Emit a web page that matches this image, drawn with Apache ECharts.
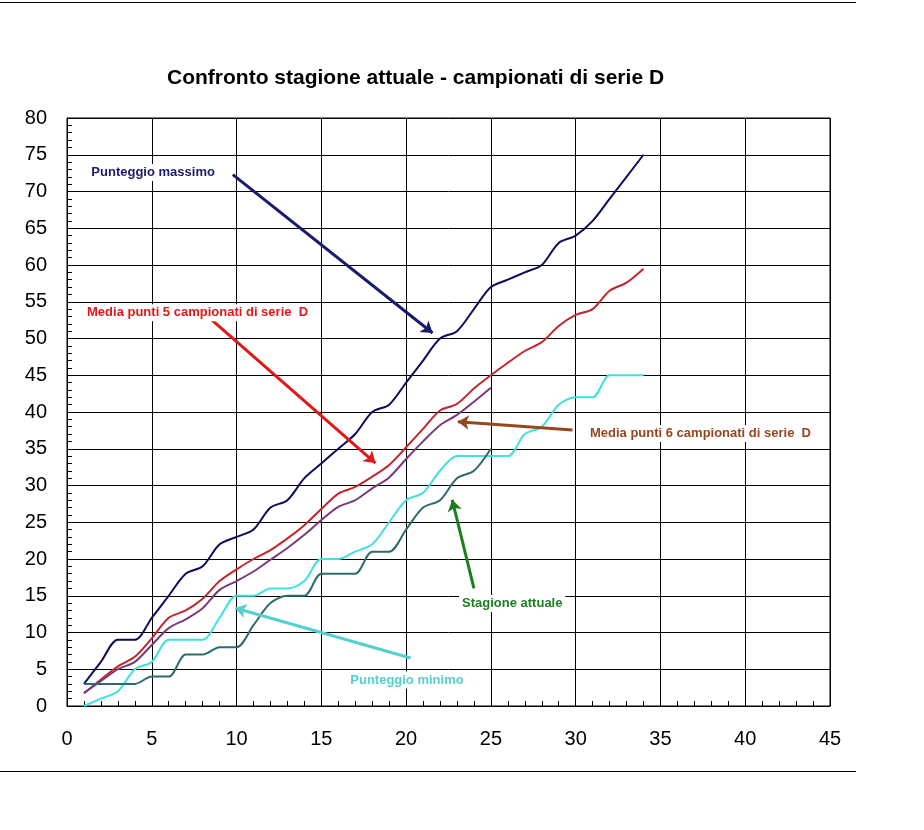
<!DOCTYPE html>
<html>
<head>
<meta charset="utf-8">
<script src="https://cdn.jsdelivr.net/npm/echarts@6/dist/echarts.min.js"></script>
<style>
  html, body { margin: 0; padding: 0; background: #fff; }
  #main { width: 924px; height: 830px; }
</style>
</head>
<body>
<div id="main"></div>
<script>
// giornate 1..34
const giornate = [1,2,3,4,5,6,7,8,9,10,11,12,13,14,15,16,17,18,19,20,21,22,23,24,25,26,27,28,29,30,31,32,33,34];

const puntMassimo = [3,6,9,9,12,15,18,19,22,23,24,27,28,31,33,35,37,40,41,44,47,50,51,54,57,58,59,60,63,64,66,69,72,75];
const media5 = [1.7,3.6,5.4,6.7,9.2,12,13,14.6,17,18.6,20,21.2,22.8,24.6,26.8,28.9,29.8,31.2,32.8,35.2,37.7,40.2,41.1,43.2,45,46.7,48.3,49.5,51.7,53.2,54,56.5,57.6,59.5];
const media6 = [1.8,3.4,5,6,8.3,10.6,11.8,13.3,15.8,17,18.3,19.9,21.5,23.3,25.3,27.1,28,29.6,31.1,33.6,36,38.2,39.6,41.4,43.3];
const puntMinimo = [0,1,2,5,6,9,9,9,12,15,15,16,16,17,20,20,21,22,25,28,29,32,34,34,34,34,37,38,41,42,42,45,45,45];
const stagioneAttuale = [3,3,3,3,4,4,7,7,8,8,11,14,15,15,18,18,18,21,21,24,27,28,31,32,35];

// frecce e didascalie (coordinate nel sistema del grafico)
const note = [
  { testo: "Punteggio massimo", pos: [5.08, 72.6], da: [9.78, 72.3], a: [21.56, 50.75], colore: "#1a1a6e" },
  { testo: "Media punti 5 campionati di serie  D", pos: [7.7, 53.5], da: [8.4, 52.8], a: [18.19, 33.06], colore: "#e01818" },
  { testo: "Media punti 6 campionati di serie  D", pos: [37.36, 37.07], da: [29.81, 37.55], a: [23.05, 38.68], colore: "#96461e" },
  { testo: "Stagione attuale", pos: [26.26, 13.95], da: [24.0, 16.0], a: [22.72, 28.03], colore: "#1e7d1e" },
  { testo: "Punteggio minimo", pos: [20.05, 3.54], da: [20.26, 6.53], a: [9.92, 13.33], colore: "#55cfcf" },
];

const font = "Liberation Sans, Arial, sans-serif";

function coppie(valori) {
  return valori.map((v, i) => [giornate[i], v]);
}

function serie(nome, valori, colore) {
  return {
    name: nome,
    type: "line",
    data: coppie(valori),
    smooth: 0.3,
    showSymbol: false,
    animation: false,
    lineStyle: { color: colore, width: 2 },
    z: 3,
  };
}

const seriesList = [
  serie("Punteggio massimo", puntMassimo, "#0c0c5c"),
  serie("Media punti 5 campionati", media5, "#c0262c"),
  serie("Media punti 6 campionati", media6, "#7a3a78"),
  serie("Punteggio minimo", puntMinimo, "#3ee0e0"),
  serie("Stagione attuale", stagioneAttuale, "#2c6c6c"),
];

// serie vuota che porta frecce e testi
seriesList.push({
  type: "line",
  data: [],
  animation: false,
  z: 5,
  markLine: {
    silent: true,
    animation: false,
    symbolSize: 11,
    label: { show: false },
    data: note.map((n) => [
      { coord: n.da, symbol: "none", lineStyle: { color: n.colore, width: 3, type: "solid" } },
      { coord: n.a, symbol: "arrow" },
    ]),
  },
  markPoint: {
    silent: true,
    animation: false,
    symbol: "rect",
    symbolSize: 0,
    data: note.map((n) => ({
      coord: n.pos,
      label: {
        show: true,
        position: "inside",
        formatter: n.testo,
        color: n.colore,
        fontFamily: font,
        fontWeight: "bold",
        fontSize: 13,
        backgroundColor: "#fff",
        padding: [2, 3],
      },
    })),
  },
});

const option = {
  backgroundColor: "#fff",
  animation: false,
  title: {
    text: "Confronto stagione attuale - campionati di serie D",
    left: 162,
    top: 63,
    textStyle: { fontFamily: font, fontWeight: "bold", fontSize: 21, color: "#000" },
  },
  grid: { left: 67, right: 94, top: 118, bottom: 124, show: true, borderColor: "#000", borderWidth: 1 },
  xAxis: {
    type: "value",
    min: 0,
    max: 45,
    interval: 5,
    axisLine: { show: true, lineStyle: { color: "#000" } },
    axisTick: { show: true, inside: true, length: 5, lineStyle: { color: "#000" } },
    minorTick: { show: true, splitNumber: 5, length: 5, lineStyle: { color: "#000" } },
    splitLine: { show: true, lineStyle: { color: "#000", width: 1 } },
    axisLabel: { fontFamily: font, fontSize: 20, color: "#000", margin: 23 },
  },
  yAxis: {
    type: "value",
    min: 0,
    max: 80,
    interval: 5,
    axisLine: { show: true, lineStyle: { color: "#000" } },
    axisTick: { show: true, inside: true, length: 5, lineStyle: { color: "#000" } },
    minorTick: { show: true, splitNumber: 5, length: 5, lineStyle: { color: "#000" } },
    splitLine: { show: true, lineStyle: { color: "#000", width: 1 } },
    axisLabel: { fontFamily: font, fontSize: 20, color: "#000", margin: 20 },
  },
  graphic: [
    { type: "line", shape: { x1: 0, y1: 2.5, x2: 856, y2: 2.5 }, style: { stroke: "#000", lineWidth: 1 } },
    { type: "line", shape: { x1: 0, y1: 771.5, x2: 856, y2: 771.5 }, style: { stroke: "#000", lineWidth: 1 } },
  ],
  series: seriesList,
};

const chart = echarts.init(document.getElementById("main"));
chart.setOption(option);
</script>
</body>
</html>
